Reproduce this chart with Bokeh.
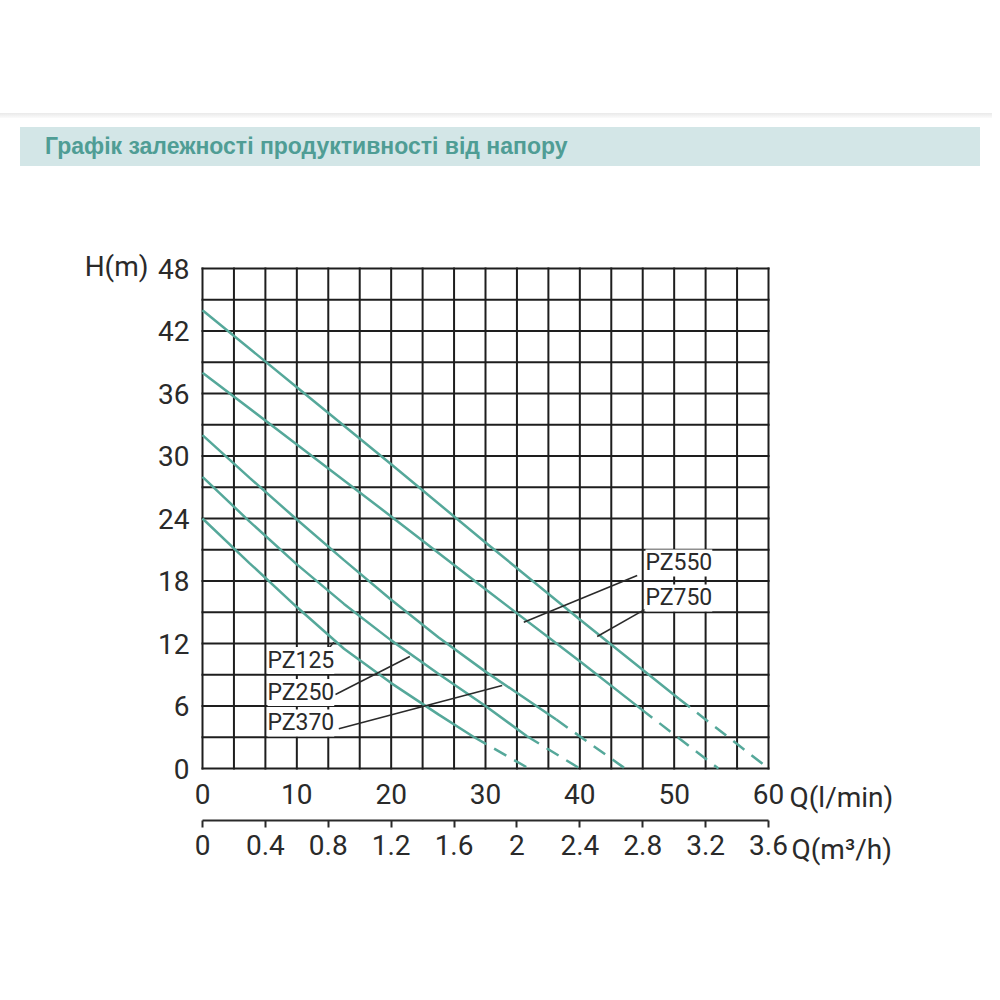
from bokeh.plotting import figure
from bokeh.models import Range1d, LinearAxis, FixedTicker, Label, Div
from bokeh.layouts import column
from bokeh.embed import file_html
from bokeh.resources import INLINE

# ---------------- data ----------------
title_text = "Графік залежності продуктивності від напору"

h_ticks = [0, 6, 12, 18, 24, 30, 36, 42, 48]
q_ticks = [0, 10, 20, 30, 40, 50, 60]
m3h_ticks = [0, 0.4, 0.8, 1.2, 1.6, 2, 2.4, 2.8, 3.2, 3.6]
m3h_labels = ["0", "0.4", "0.8", "1.2", "1.6", "2", "2.4", "2.8", "3.2", "3.6"]

models = ["PZ125", "PZ250", "PZ370", "PZ550", "PZ750"]
pz125_q = [0, 5, 10, 15, 20, 25, 28.8, 34.6]
pz125_h = [24, 19.7, 15.5, 11.5, 8.2, 5.2, 3.0, 0]
pz250_q = [0, 5, 10, 15, 20, 25, 30, 34.4, 40]
pz250_h = [28, 23.7, 19.6, 15.8, 12.3, 9.1, 6.0, 3.1, 0]
pz370_q = [0, 5, 10, 15, 20, 25, 30, 37.5, 44.8]
pz370_h = [32, 27.9, 23.9, 20.0, 16.2, 12.6, 9.3, 4.7, 0]
pz550_q = [0, 10, 20, 30, 40, 46.5, 54.7]
pz550_h = [38, 31.1, 24.2, 17.2, 10.3, 5.7, 0]
pz750_q = [0, 10, 20, 30, 40, 50.5, 60]
pz750_h = [44, 36.6, 29.2, 21.7, 14.3, 6.7, 0]

series_q = [pz125_q, pz250_q, pz370_q, pz550_q, pz750_q]
series_h = [pz125_h, pz250_h, pz370_h, pz550_h, pz750_h]

Q_MAX, H_MAX = 60, 48
LPM_TO_M3H = 0.06

# ---------------- style / layout ----------------
FONT = "Roboto"
INK = "#2a2a2a"
GRIDC = "#1e1e1e"
CURVE = "#55a89a"

FIG_TOP = 166          # page y where figure starts
FIG_W, FIG_H = 992, 760
X0_PX, X1_PX = 202, 768   # page x of Q=0 and Q=60
Y0_PX, Y1_PX = 768, 268   # page y of H=0 and H=48
sx = (X1_PX - X0_PX) / Q_MAX
sy = (Y0_PX - Y1_PX) / H_MAX
def q_at(px):
    return (px - X0_PX) / sx
def h_at(py):
    return (Y0_PX - py) / sy

lab_pos = {"PZ125": (6.89, 10.37), "PZ250": (6.89, 7.30), "PZ370": (6.89, 4.37),
           "PZ550": (46.96, 19.73), "PZ750": (46.96, 16.37)}
lead = {"PZ125": ((13.04, 11.16), (13.92, 12.12)),
        "PZ250": ((14.10, 7.10), (21.98, 10.75)),
        "PZ370": ((14.45, 3.81), (31.77, 7.97)),
        "PZ550": ((34.06, 14.04), (46.08, 18.53)),
        "PZ750": ((41.84, 12.67), (46.86, 15.26))}

banner = Div(
    width=FIG_W, height=FIG_TOP, margin=(0, 0, 0, 0),
    text=(
        '<div style="position:relative;width:992px;height:166px;">'
        '<div style="position:absolute;top:113px;left:0;width:992px;height:5px;'
        'background:linear-gradient(#e9e9e9,#fbfbfb);"></div>'
        '<div style="position:absolute;top:127px;left:20px;width:960px;height:39px;'
        'background:#d3e6e7;"></div>'
        '<div style="position:absolute;top:127px;left:45px;height:39px;line-height:39px;'
        'font-family:\'Liberation Sans\',Arial,sans-serif;font-weight:bold;font-size:23px;'
        'color:#4f9d95;white-space:nowrap;">' + title_text + '</div>'
        '</div>'
    ),
)

p = figure(width=FIG_W, height=FIG_H,
           x_range=Range1d(q_at(0), q_at(FIG_W)),
           y_range=Range1d(h_at(FIG_TOP + FIG_H), h_at(FIG_TOP)),
           x_axis_location=None, y_axis_location=None,
           output_backend="svg", toolbar_location=None,
           min_border_left=0, min_border_right=0,
           min_border_top=0, min_border_bottom=0, margin=(0, 0, 0, 0))
p.outline_line_color = None
p.grid.visible = False
p.background_fill_color = "white"
p.border_fill_color = "white"

# grid (cells of 0.2 m3/h by 3 m)
grid_q = [i * Q_MAX / 18 for i in range(19)]
grid_h = [i * H_MAX / 16 for i in range(17)]
p.segment(x0=grid_q, y0=[0] * len(grid_q), x1=grid_q, y1=[H_MAX] * len(grid_q),
          line_color=GRIDC, line_width=2, line_cap="square")
p.segment(x0=[0] * len(grid_h), y0=grid_h, x1=[Q_MAX] * len(grid_h), y1=grid_h,
          line_color=GRIDC, line_width=2, line_cap="square")

yax = LinearAxis(fixed_location=0, ticker=FixedTicker(ticks=h_ticks), axis_line_color=None,
                 major_tick_line_color=None, minor_tick_line_color=None,
                 major_tick_out=0, major_tick_in=0, major_label_standoff=13,
                 major_label_text_font=FONT, major_label_text_font_size="28px",
                 major_label_text_color=INK)
p.add_layout(yax, "left")

xax = LinearAxis(fixed_location=0, ticker=FixedTicker(ticks=q_ticks), axis_line_color=None,
                 major_tick_line_color=None, minor_tick_line_color=None,
                 major_tick_out=0, major_tick_in=0, major_label_standoff=15,
                 major_label_text_font=FONT, major_label_text_font_size="28px",
                 major_label_text_color=INK)
p.add_layout(xax, "below")

p.extra_x_ranges = {"m3h": Range1d(q_at(0) * LPM_TO_M3H, q_at(FIG_W) * LPM_TO_M3H)}
xax2 = LinearAxis(x_range_name="m3h", fixed_location=h_at(820),
                  bounds=(0, Q_MAX * LPM_TO_M3H),
                  ticker=FixedTicker(ticks=m3h_ticks),
                  major_label_overrides=dict(zip(m3h_ticks, m3h_labels)),
                  axis_line_color=INK, axis_line_width=2,
                  major_tick_line_color=INK, major_tick_line_width=2,
                  major_tick_in=0, major_tick_out=7,
                  minor_tick_line_color=None, major_label_standoff=7,
                  major_label_text_font=FONT, major_label_text_font_size="28px",
                  major_label_text_color=INK)
p.add_layout(xax2, "below")

for q, h in zip(series_q, series_h):
    p.line(q[:-1], h[:-1], line_color=CURVE, line_width=2.5)
    p.line(q[-2:], h[-2:], line_color=CURVE, line_width=2.5, line_dash="14 9")

for m in models:
    (x0, y0), (x1, y1) = lead[m]
    p.segment(x0=[x0], y0=[y0], x1=[x1], y1=[y1], line_color=INK, line_width=1.5)
    lx, ly = lab_pos[m]
    p.add_layout(Label(x=lx, y=ly, text=m, text_font=FONT, text_font_size="23px",
                       text_color=INK, text_baseline="middle", text_align="left",
                       background_fill_color="white"))

p.add_layout(Label(x=q_at(148), y=h_at(266), text="H(m)", text_font=FONT,
                   text_font_size="28px", text_color=INK,
                   text_baseline="middle", text_align="right"))
p.add_layout(Label(x=q_at(789), y=h_at(797), text="Q(l/min)", text_font=FONT,
                   text_font_size="28px", text_color=INK,
                   text_baseline="middle", text_align="left"))
p.add_layout(Label(x=q_at(791), y=h_at(849), text="Q(m³/h)", text_font=FONT,
                   text_font_size="28px", text_color=INK,
                   text_baseline="middle", text_align="left"))

layout = column(banner, p, spacing=0)
open("out.html", "w").write(file_html(layout, INLINE))
